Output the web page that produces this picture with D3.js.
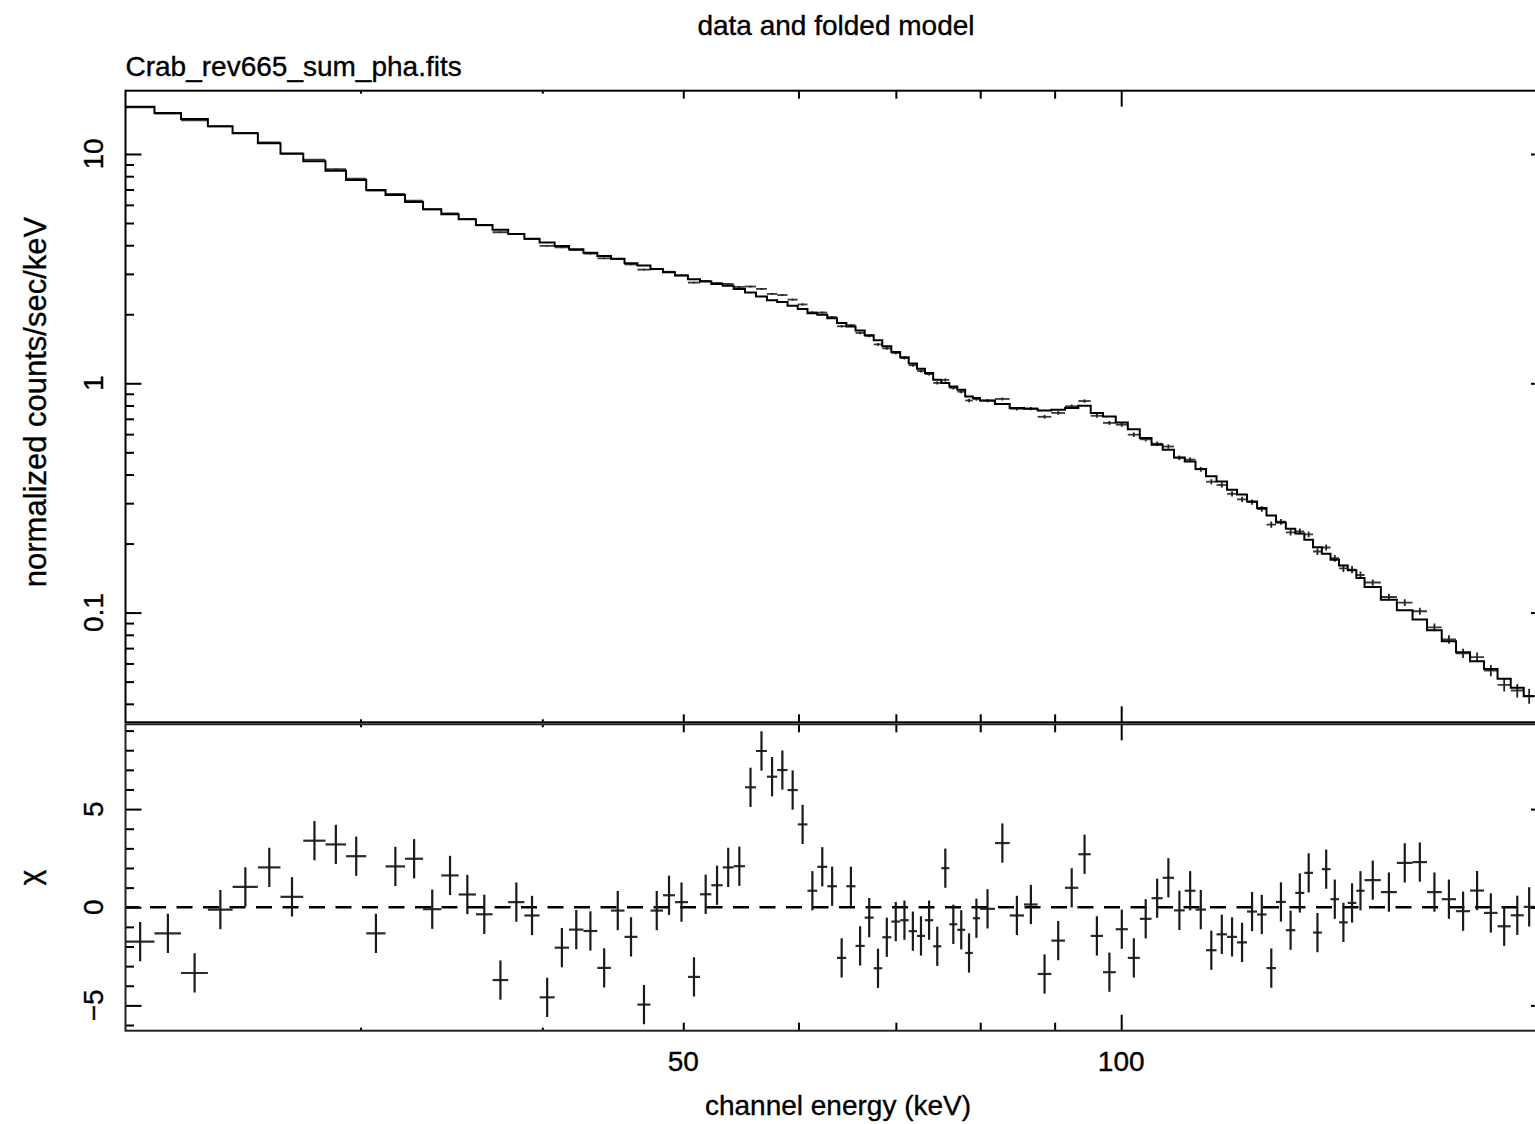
<!DOCTYPE html>
<html><head><meta charset="utf-8">
<script src="https://cdn.jsdelivr.net/npm/d3@7"></script>
<style>
body{margin:0;background:#fff}
svg{display:block}
text{font-family:"Liberation Sans",Arial,Helvetica,sans-serif;fill:#000;stroke:#000;stroke-width:0.35px}
</style>
</head><body>
<svg id="c" width="1535" height="1124"></svg>
<script>
// ---------------- data ----------------
const binEdges = [
 20.68, 21.65, 22.58, 23.56, 24.50, 25.50, 26.43, 27.40, 28.38, 29.32,
 30.27, 31.21, 32.19, 33.12, 34.09, 35.04, 36.01, 36.97, 37.90, 38.88,
 39.83, 40.79, 41.73, 42.69, 43.64, 44.59, 45.56, 46.50, 47.47, 48.42,
 49.35, 50.37, 51.34, 52.27, 53.22, 54.15, 55.13, 56.10, 57.08, 58.01,
 58.97, 59.93, 60.86, 61.81, 62.80, 63.77, 64.72, 65.67, 66.63, 67.59,
 68.51, 69.50, 70.48, 71.44, 72.38, 73.30, 74.26, 75.22, 76.18, 77.15,
 78.12, 79.07, 79.97, 81.89, 83.82, 85.74, 87.62, 89.53, 91.49, 93.44,
 95.29, 97.16, 99.14, 101.05, 102.99, 104.92, 106.79, 108.72, 110.58, 112.48,
 114.37, 116.29, 118.24, 120.12, 122.04, 123.99, 125.86, 127.77, 129.77, 131.73,
 133.62, 135.48, 137.38, 139.28, 141.17, 143.13, 145.09, 146.99, 150.83, 154.70,
 158.59, 162.27, 166.09, 169.89, 173.70, 177.59, 181.43, 185.26, 189.11, 192.37
];
const modelRate = [
 16.07, 15.09, 14.21, 13.20, 12.31, 11.13, 10.03, 9.29, 8.46, 7.70,
 6.97, 6.63, 6.18, 5.74, 5.46, 5.19, 4.90, 4.67, 4.48, 4.27,
 4.11, 3.97, 3.84, 3.71, 3.59, 3.49, 3.34, 3.26, 3.15, 3.05,
 2.95, 2.84, 2.78, 2.71, 2.66, 2.58, 2.49, 2.39, 2.30, 2.26,
 2.18, 2.11, 2.02, 1.99, 1.92, 1.83, 1.77, 1.70, 1.62, 1.54,
 1.45, 1.37, 1.30, 1.22, 1.157, 1.108, 1.036, 1.002, 0.968, 0.937,
 0.876, 0.862, 0.841, 0.812, 0.780, 0.774, 0.761, 0.766, 0.780, 0.798,
 0.742, 0.717, 0.675, 0.631, 0.577, 0.540, 0.513, 0.475, 0.456, 0.423,
 0.393, 0.373, 0.343, 0.327, 0.305, 0.286, 0.265, 0.247, 0.232, 0.221,
 0.208, 0.1926, 0.1807, 0.1702, 0.1603, 0.1528, 0.1416, 0.1294, 0.1139, 0.1023,
 0.0932, 0.0837, 0.0750, 0.0671, 0.0613, 0.0568, 0.0514, 0.0470, 0.0432
];
const chi = [
 -1.75, -1.33, -3.35, -0.12, 1.04, 2.03, 0.53, 3.39, 3.20, 2.60,
 -1.33, 2.08, 2.47, -0.10, 1.62, 0.65, -0.36, -3.71, 0.26, -0.42,
 -4.59, -2.06, -1.14, -1.21, -3.09, -0.17, -1.51, -4.96, -0.17, 0.61,
 0.26, -3.55, 0.66, 1.12, 2.03, 2.09, 6.11, 7.96, 6.65, 6.99,
 5.97, 4.22, 0.84, 2.06, 1.07, -2.58, 1.07, -1.97, -0.53, -3.11,
 -1.53, -0.73, -0.66, -1.22, -1.46, -0.66, -1.99, 1.99, -0.87, -1.15,
 -2.33, -0.56, -0.08, 3.27, -0.42, 0.14, -3.40, -1.70, 0.99, 2.70,
 -1.46, -3.31, -1.12, -2.58, -0.59, 0.46, 1.50, -0.16, 0.84, -0.12,
 -2.19, -1.38, -1.51, -1.79, -0.22, -0.37, -3.10, 0.27, -1.17, 0.73,
 1.75, -1.29, 1.94, 0.41, -0.77, 0.22, 0.84, 1.38, 0.77, 2.26,
 2.30, 0.77, 0.41, -0.20, 0.85, -0.29, -0.97, -0.41, 0.02
];
const relErr = [
 0.004,0.004,0.004,0.004,0.0045,0.0045,0.0045,0.005,0.005,0.005,
 0.0055,0.0055,0.0055,0.006,0.006,0.006,0.0065,0.0065,0.0065,0.007,
 0.007,0.007,0.0075,0.0075,0.0075,0.008,0.008,0.008,0.0085,0.0085,
 0.009,0.009,0.009,0.0095,0.0095,0.0095,0.01,0.01,0.01,0.0105,
 0.0105,0.011,0.011,0.011,0.0115,0.012,0.012,0.0125,0.013,0.013,
 0.0135,0.014,0.014,0.0145,0.015,0.015,0.0155,0.016,0.016,0.0165,
 0.017,0.017,0.016,0.016,0.017,0.017,0.018,0.018,0.018,0.018,
 0.019,0.019,0.02,0.021,0.021,0.022,0.022,0.023,0.023,0.024,
 0.024,0.025,0.026,0.026,0.027,0.028,0.028,0.029,0.03,0.031,
 0.031,0.032,0.033,0.034,0.035,0.036,0.036,0.033,0.035,0.036,
 0.038,0.04,0.043,0.046,0.05,0.055,0.06,0.066,0.075
];
const xLabelTicks = [50, 100];
const xMajorTicks = [100];
const xMidTicks = [50, 60, 70, 80, 90];
const xSmallTicks = [30, 40];
const yTopLabelTicks = [0.1, 1, 10];
const yTopLabels = ["0.1", "1", "10"];
const yTopMinorTicks = [0.04,0.05,0.06,0.07,0.08,0.09,0.2,0.3,0.4,0.5,0.6,0.7,0.8,0.9,2,3,4,5,6,7,8,9];
const yBotLabelTicks = [-5, 0, 5];
const yBotLabels = ["\u22125", "0", "5"];
const yBotMinorTicks = [-6,-4,-3,-2,-1,1,2,3,4,6,7,8,9];
const titleText = "data and folded model";
const fileText = "Crab_rev665_sum_pha.fits";
const xTitle = "channel energy (keV)";
const yTitleTop = "normalized counts/sec/keV";
const yTitleBot = "\u03c7";

// ---------------- layout ----------------
const X0 = 125.5, X1 = 1547;
const T0 = 90.7, T1 = 722.3, B0 = 724.3, B1 = 1030.7;

const x = d3.scaleLog().domain([20.68, 196.2]).range([X0, X1]);
const yTop = d3.scaleLog().domain([0.03323, 18.88]).range([T1, T0]);
const yBot = d3.scaleLinear().domain([-6.29, 9.32]).range([B1, B0]);

const svg = d3.select("#c");
const FS = 28;

const bins = modelRate.map((m, i) => {
  const lo = binEdges[i], hi = binEdges[i + 1];
  const s = relErr[i] * m;
  return {lo, hi, c: (lo + hi) / 2, m, s, d: m + chi[i] * s, chi: chi[i]};
});

// clip paths
const defs = svg.append("defs");
defs.append("clipPath").attr("id","clipT").append("rect")
  .attr("x",X0).attr("y",T0).attr("width",X1-X0).attr("height",T1-T0);
defs.append("clipPath").attr("id","clipB").append("rect")
  .attr("x",X0).attr("y",B0).attr("width",X1-X0).attr("height",B1-B0);

// ---------------- top panel ----------------
const gT = svg.append("g").attr("clip-path","url(#clipT)");
gT.append("g").selectAll("line").data(bins).join("line")
  .attr("x1", d => x(d.lo)).attr("x2", d => x(d.hi))
  .attr("y1", d => yTop(d.d)).attr("y2", d => yTop(d.d))
  .attr("stroke","#3a3a3a").attr("stroke-width",1.8);
gT.append("g").selectAll("line").data(bins).join("line")
  .attr("x1", d => x(d.c)).attr("x2", d => x(d.c))
  .attr("y1", d => yTop(d.d - d.s)).attr("y2", d => yTop(d.d + d.s))
  .attr("stroke","#222").attr("stroke-width",1.8);
const stepPts = bins.map(b => [b.lo, b.m]).concat([[bins[bins.length-1].hi, bins[bins.length-1].m]]);
gT.append("path")
  .attr("d", d3.line().x(p => x(p[0])).y(p => yTop(p[1])).curve(d3.curveStepAfter)(stepPts))
  .attr("fill","none").attr("stroke","#000").attr("stroke-width",2);

// ---------------- bottom panel ----------------
const gB = svg.append("g").attr("clip-path","url(#clipB)");
gB.append("line")
  .attr("x1", X0).attr("x2", X1).attr("y1", yBot(0)).attr("y2", yBot(0))
  .attr("stroke","#000").attr("stroke-width",2.6)
  .attr("stroke-dasharray","16,10.5").attr("stroke-dashoffset",2);
gB.append("g").selectAll("line").data(bins).join("line")
  .attr("x1", d => x(d.lo)).attr("x2", d => x(d.hi))
  .attr("y1", d => yBot(d.chi)).attr("y2", d => yBot(d.chi))
  .attr("stroke","#2a2a2a").attr("stroke-width",2.2);
gB.append("g").selectAll("line").data(bins).join("line")
  .attr("x1", d => x(d.c)).attr("x2", d => x(d.c))
  .attr("y1", d => yBot(d.chi - 1)).attr("y2", d => yBot(d.chi + 1))
  .attr("stroke","#1a1a1a").attr("stroke-width",2.2);

// ---------------- axes / ticks ----------------
function ticks(axisGen, tx, ty, vals, size) {
  const g = svg.append("g").attr("transform", `translate(${tx},${ty})`)
    .call(axisGen.tickValues(vals).tickSize(-size).tickFormat(""));
  g.select(".domain").remove();
  g.selectAll(".tick line").attr("stroke","#000").attr("stroke-width",2);
  g.selectAll(".tick text").remove();
}
[[d3.axisTop, T0],[d3.axisBottom, T1],[d3.axisTop, B0],[d3.axisBottom, B1]].forEach(([ax, yy]) => {
  ticks(ax(x), 0, yy, xMajorTicks, 16);
  ticks(ax(x), 0, yy, xMidTicks, 8);
  ticks(ax(x), 0, yy, xSmallTicks, 3);
});
ticks(d3.axisLeft(yTop), X0, 0, yTopLabelTicks, 16);
ticks(d3.axisLeft(yTop), X0, 0, yTopMinorTicks, 8.5);
ticks(d3.axisRight(yTop), X1, 0, yTopLabelTicks, 16);
ticks(d3.axisRight(yTop), X1, 0, yTopMinorTicks, 8.5);
ticks(d3.axisLeft(yBot), X0, 0, yBotLabelTicks, 16);
ticks(d3.axisLeft(yBot), X0, 0, yBotMinorTicks, 8.5);
ticks(d3.axisRight(yBot), X1, 0, yBotLabelTicks, 16);
ticks(d3.axisRight(yBot), X1, 0, yBotMinorTicks, 8.5);

// frames
svg.append("rect").attr("x",X0).attr("y",T0).attr("width",X1-X0).attr("height",T1-T0)
  .attr("fill","none").attr("stroke","#000").attr("stroke-width",2);
svg.append("rect").attr("x",X0).attr("y",B0).attr("width",X1-X0).attr("height",B1-B0)
  .attr("fill","none").attr("stroke","#222").attr("stroke-width",2);

// ---------------- labels ----------------
svg.append("text").attr("x", 836).attr("y", 35).attr("text-anchor","middle")
  .attr("font-size", FS).text(titleText);
svg.append("text").attr("x", X0).attr("y", 76).attr("font-size", FS).text(fileText);

svg.append("g").selectAll("text").data(yTopLabelTicks).join("text")
  .attr("transform", (d) => `translate(103,${yTop(d)}) rotate(-90)`)
  .attr("text-anchor","middle").attr("font-size", FS)
  .text((d, i) => yTopLabels[i]);
svg.append("g").selectAll("text").data(yBotLabelTicks).join("text")
  .attr("transform", (d) => `translate(103,${yBot(d)}) rotate(-90)`)
  .attr("text-anchor","middle").attr("font-size", FS)
  .text((d, i) => yBotLabels[i]);
svg.append("g").selectAll("text").data(xLabelTicks).join("text")
  .attr("x", d => x(d)).attr("y", 1071).attr("text-anchor","middle")
  .attr("font-size", FS).text(d => d);

svg.append("text").attr("transform", `translate(46,402) rotate(-90)`)
  .attr("text-anchor","middle").attr("font-size", 31).text(yTitleTop);
svg.append("text").attr("transform", `translate(40,${(B0+B1)/2}) rotate(-90)`)
  .attr("text-anchor","middle").attr("font-size", 30).text(yTitleBot);
svg.append("text").attr("x", 838).attr("y", 1115).attr("text-anchor","middle")
  .attr("font-size", FS).text(xTitle);
</script>
</body></html>
